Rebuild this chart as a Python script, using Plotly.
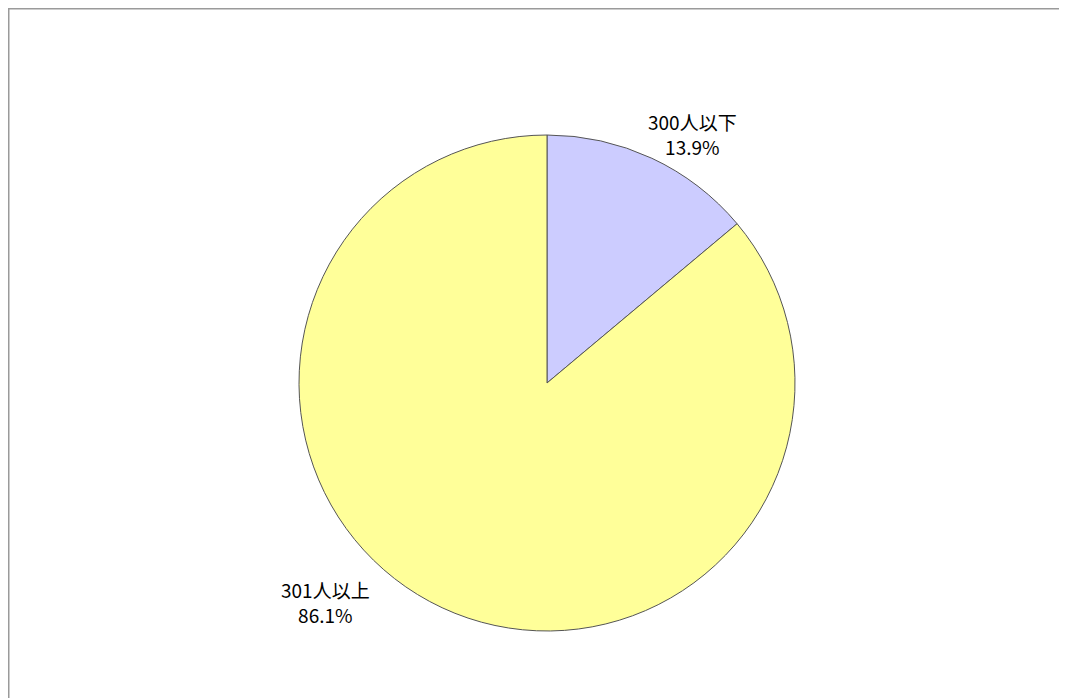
import plotly.graph_objects as go

categories = ["300人以下", "301人以上"]
values = [13.9, 86.1]
colors = ["#CCCCFF", "#FFFF99"]

OFF = 8  # page body margin
W, H = 1080, 700
cx, cy, r = 547 - OFF, 383 - OFF, 248

fig = go.Figure(go.Pie(
    labels=categories,
    values=values,
    sort=False,
    direction="clockwise",
    rotation=0,
    marker=dict(colors=colors, line=dict(color="#555555", width=1)),
    textinfo="none",
    hoverinfo="label+percent",
    domain=dict(x=[(cx - r) / W, (cx + r) / W], y=[1 - (cy + r) / H, 1 - (cy - r) / H]),
    showlegend=False,
))

label_pos = [(692 - OFF, 134 - OFF), (325 - OFF, 602 - OFF)]
for cat, val, (lx, ly) in zip(categories, values, label_pos):
    fig.add_annotation(
        x=lx / W, y=1 - ly / H, xref="paper", yref="paper",
        xanchor="center", yanchor="middle",
        text=f"{cat}<br>{val:.1f}%", showarrow=False,
        font=dict(size=19, color="#000000", family="Noto Sans CJK JP"),
        align="center",
    )

fig.add_shape(type="rect", xref="paper", yref="paper",
              x0=0.75 / W, y0=-0.05, x1=1.05, y1=1 - 0.75 / H,
              line=dict(color="#9a9a9a", width=1.5), fillcolor="rgba(0,0,0,0)")

fig.update_layout(
    width=W, height=H,
    margin=dict(l=0, r=0, t=0, b=0),
    paper_bgcolor="white", plot_bgcolor="white",
)

fig.write_html("out.html")
